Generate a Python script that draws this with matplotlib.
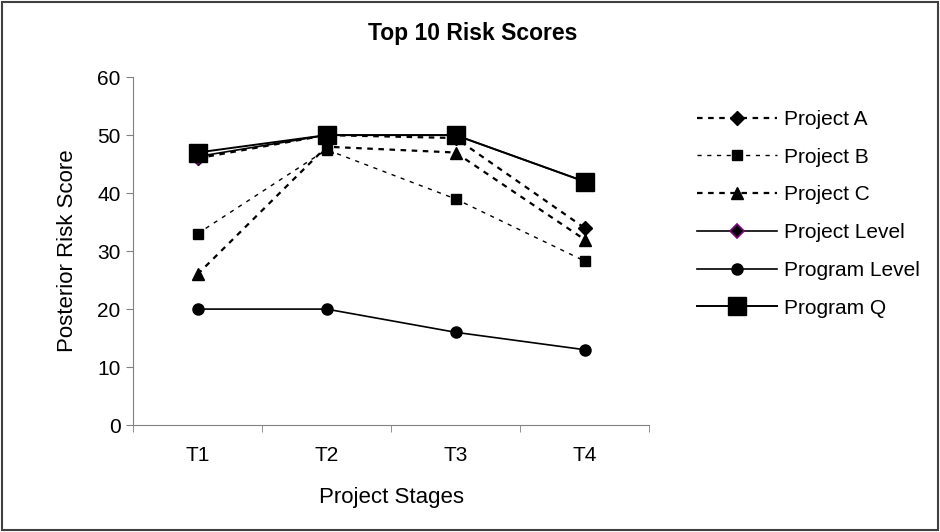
import matplotlib
matplotlib.use("Agg")
import matplotlib.pyplot as plt
from matplotlib.patches import Rectangle

plt.rcParams['font.family'] = ['Liberation Sans', 'DejaVu Sans']

stages = ["T1", "T2", "T3", "T4"]
project_a = [46, 50, 49.5, 34]
project_b = [33, 47.5, 39, 28.3]
project_c = [26, 48, 47, 32]
project_level = [46.3, 50, 50, 42]
program_level = [20, 20, 16, 13]
program_q = [47, 50, 50, 42]

fig = plt.figure(figsize=(9.4, 5.32), dpi=100)
ax = fig.add_axes([0.1415, 0.201, 0.549, 0.654])

x = range(len(stages))
ax.plot(x, project_a, color="black", linestyle=(0, (2.5, 2.5)), lw=1.6,
        marker="D", markersize=7, label="Project A", zorder=3)
ax.plot(x, project_b, color="black", linestyle=(0, (3, 4)), lw=1.0,
        marker="s", markersize=7.5, label="Project B", zorder=3)
ax.plot(x, project_c, color="black", linestyle=(0, (2.5, 2.5)), lw=1.6,
        marker="^", markersize=8.5, label="Project C", zorder=3)
ax.plot(x, project_level, color="black", linestyle="-", lw=1.2,
        marker="D", markersize=7, markerfacecolor="black",
        markeredgecolor="#800080", markeredgewidth=1.2,
        label="Project Level", zorder=4)
ax.plot(x, program_level, color="black", linestyle="-", lw=1.2,
        marker="o", markersize=8, label="Program Level", zorder=4)
ax.plot(x, program_q, color="black", linestyle="-", lw=1.4,
        marker="s", markersize=13, label="Program Q", zorder=5)

ax.set_xlim(-0.5, 3.5)
ax.set_ylim(0, 60)
ax.set_yticks(range(0, 61, 10))
ax.set_xticks(x)
ax.set_xticklabels(stages, fontsize=15)
ax.tick_params(axis="x", length=0, pad=15)
ax.set_xticks([-0.5, 0.5, 1.5, 2.5, 3.5], minor=True)
ax.tick_params(axis="x", which="minor", length=5, color="#808080", direction="out")
ax.tick_params(axis="y", labelsize=15, length=5, color="#808080", pad=4)

for side in ["top", "right"]:
    ax.spines[side].set_visible(False)
for side in ["left", "bottom"]:
    ax.spines[side].set_color("#808080")

ax.set_ylabel("Posterior Risk Score", fontsize=16, labelpad=14)
ax.set_xlabel("Project Stages", fontsize=16, labelpad=16)
fig.text(0.503, 0.937, "Top 10 Risk Scores", ha="center", va="center",
         fontsize=16.5, fontweight="bold")

ax.legend(loc="upper left", bbox_to_anchor=(1.077, 0.93), frameon=False,
          fontsize=15, handlelength=3.85, labelspacing=0.9, handletextpad=0.3,
          borderaxespad=0)

fig.patches.append(Rectangle((0.002, 0.003), 0.996, 0.994, transform=fig.transFigure,
                             fill=False, edgecolor="#404040", lw=1.5))

fig.savefig("out.png", dpi=100)
